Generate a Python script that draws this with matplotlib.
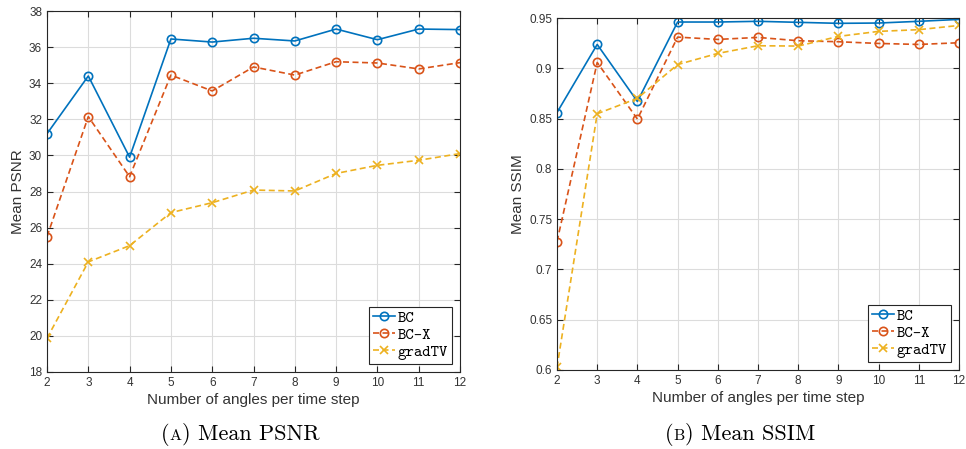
import matplotlib

matplotlib.use("Agg")
import matplotlib.pyplot as plt
from matplotlib.offsetbox import AnnotationBbox, HPacker, TextArea

angles = [2, 3, 4, 5, 6, 7, 8, 9, 10, 11, 12]

psnr_bc = [31.2, 34.4, 29.9, 36.45, 36.28, 36.49, 36.34, 37.0, 36.41, 37.0, 36.97]
psnr_bcx = [25.5, 32.15, 28.82, 34.45, 33.57, 34.9, 34.45, 35.19, 35.12, 34.79, 35.14]
psnr_tv = [19.87, 24.1, 25.0, 26.83, 27.38, 28.08, 28.03, 29.0, 29.45, 29.73, 30.1]

ssim_bc = [0.856, 0.9237, 0.867, 0.946, 0.946, 0.9467, 0.9457, 0.9447, 0.945, 0.9467, 0.9486]
ssim_bcx = [0.7277, 0.9058, 0.8495, 0.931, 0.9287, 0.9307, 0.9274, 0.9264, 0.9247, 0.9237, 0.9254]
ssim_tv = [0.6026, 0.8548, 0.8701, 0.9037, 0.9148, 0.9224, 0.9221, 0.9317, 0.9367, 0.9384, 0.9426]

labels = ["BC", "BC-X", "gradTV"]
colors = ["#0072BD", "#D95319", "#EDB120"]
styles = [("-", "o"), ("--", "o"), ("--", "x")]

AX_COL = "#262626"
TXT_COL = "#333333"

fig = plt.figure(figsize=(9.66, 4.49), dpi=100)
W, H = 966, 449


def px_axes(l, t, r, b):
    return fig.add_axes([l / W, 1 - b / H, (r - l) / W, (b - t) / H])


def panel(ax, series, ylim, yticks, yfmt, ylabel):
    for y, lab, c, (ls, mk) in zip(series, labels, colors, styles):
        line, = ax.plot(angles, y, ls=ls, marker=mk, color=c, lw=1.2, ms=6,
                        mfc="none", mew=1.2, label=lab)
        if ls == "--":
            line.set_dashes((3.6, 2.1))
    ax.set_xlim(2, 12)
    ax.set_ylim(*ylim)
    ax.set_xticks(angles)
    ax.set_yticks(yticks)
    ax.set_yticklabels([yfmt(v) for v in yticks])
    ax.grid(True, color="#dcdcdc", lw=0.8)
    ax.set_axisbelow(True)
    ax.tick_params(direction="in", top=True, right=True, length=4,
                   labelsize=8.5, colors=AX_COL, labelcolor=TXT_COL, width=0.8)
    for s in ax.spines.values():
        s.set_color(AX_COL)
        s.set_linewidth(0.8)
    ax.set_xlabel("Number of angles per time step", fontsize=11, color=TXT_COL,
                  family="Liberation Sans", labelpad=3)
    ax.set_ylabel(ylabel, fontsize=11, color=TXT_COL, family="Liberation Sans",
                  labelpad=3)
    for t in ax.get_xticklabels() + ax.get_yticklabels():
        t.set_family("Liberation Sans")
    leg = ax.legend(loc="lower right", prop={"family": "cmtt10", "size": 11.5},
                    fancybox=False, edgecolor=AX_COL, framealpha=1,
                    handlelength=1.4, handletextpad=0.15, borderpad=0.25,
                    labelspacing=0.12, borderaxespad=0.5)
    leg.get_frame().set_linewidth(0.8)


def caption(x, y, letter, text):
    # "(A) Mean PSNR" with the letter set in small caps
    big = dict(fontsize=16, family="cmr10")
    parts = [TextArea("(", textprops=big),
             TextArea(letter, textprops=dict(fontsize=11.5, family="cmr10")),
             TextArea(") " + text, textprops=big)]
    box = HPacker(children=parts, align="baseline", pad=0, sep=0)
    fig.add_artist(AnnotationBbox(box, (x / W, 1 - y / H), xycoords="figure fraction",
                                  frameon=False, box_alignment=(0.5, 0.5)))


ax1 = px_axes(47, 11, 460, 372)
panel(ax1, [psnr_bc, psnr_bcx, psnr_tv], (18, 38), list(range(18, 39, 2)),
      lambda v: f"{v:d}", "Mean PSNR")

ax2 = px_axes(557, 18, 959, 370)
panel(ax2, [ssim_bc, ssim_bcx, ssim_tv], (0.6, 0.95),
      [0.6, 0.65, 0.7, 0.75, 0.8, 0.85, 0.9, 0.95],
      lambda v: f"{v:g}", "Mean SSIM")

caption(240, 434, "A", "Mean PSNR")
caption(740, 434, "B", "Mean SSIM")

fig.savefig("out.png", dpi=100)
